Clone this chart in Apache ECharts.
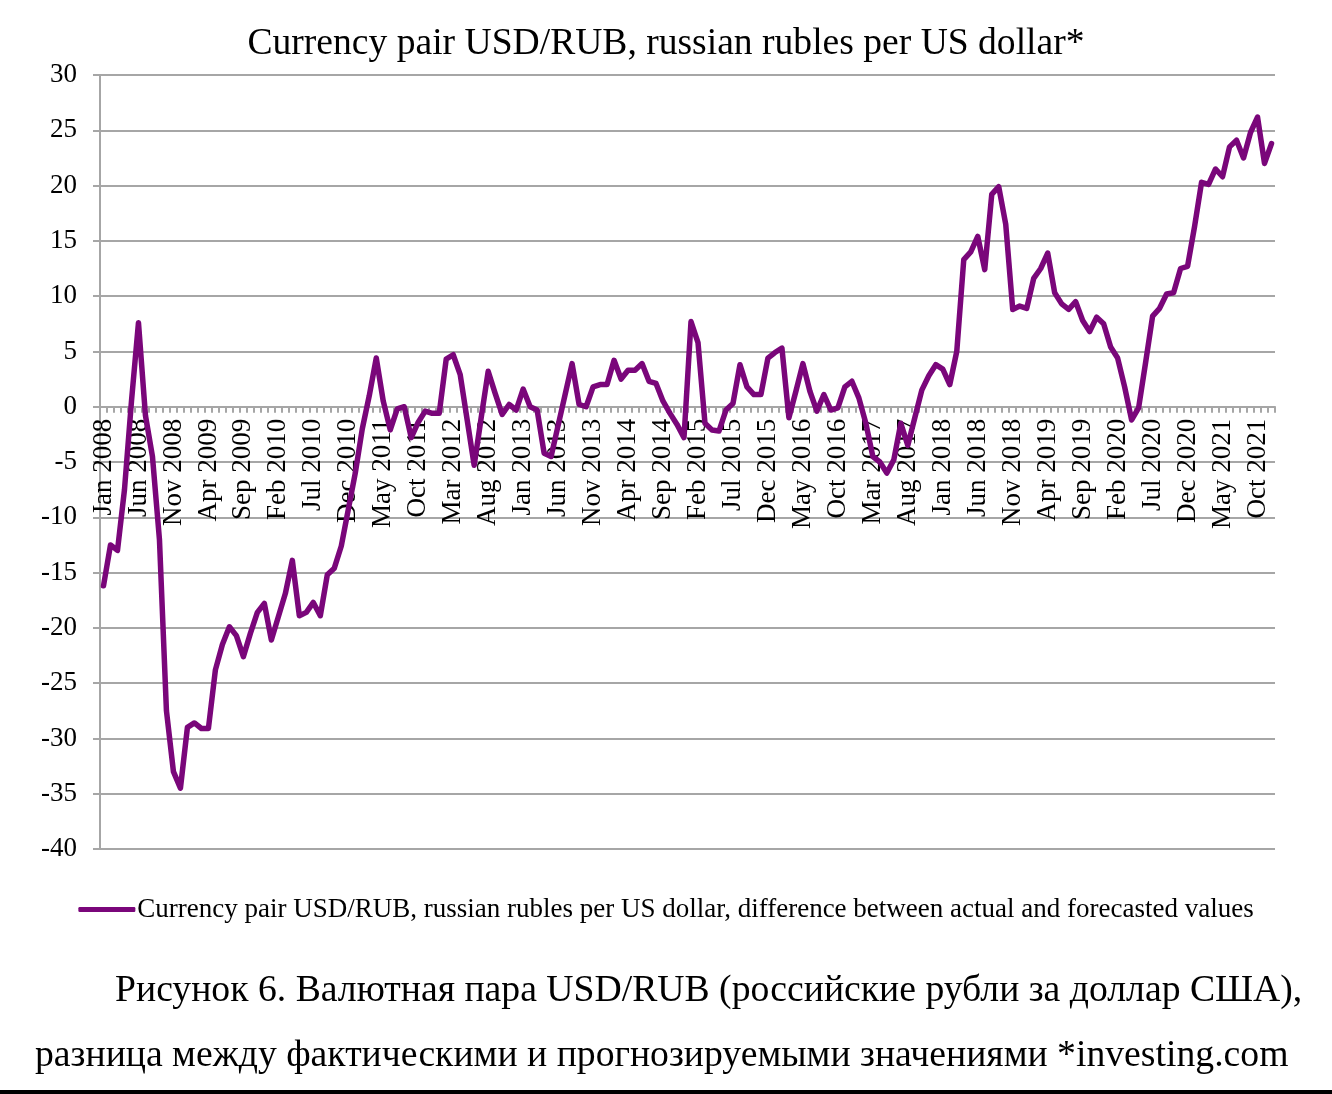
<!DOCTYPE html>
<html lang="en">
<head>
    <meta charset="utf-8">
    <title>USD/RUB</title>
    <script src="https://cdn.jsdelivr.net/npm/echarts@6/dist/echarts.min.js"></script>
    <style>
        html, body { margin: 0; padding: 0; background: #fff; }
    </style>
</head>
<body>
    <div id="main" style="width:1332px;height:1094px;"></div>

    <script>
    // month names and years for the category axis
    var monthNames = ['Jan', 'Feb', 'Mar', 'Apr', 'May', 'Jun', 'Jul', 'Aug', 'Sep', 'Oct', 'Nov', 'Dec'];
    var years = [2008, 2009, 2010, 2011, 2012, 2013, 2014, 2015, 2016, 2017, 2018, 2019, 2020, 2021];

    var yTicks = { min: -40, max: 30, step: 5 };

    // difference between actual and forecasted values, one row per year (Jan..Dec)
    var diffValues = [
        -16.2, -12.5, -13.0, -7.5, 0.5, 7.6, -0.8, -4.5, -12.0, -27.5, -33.0, -34.5,
        -29.0, -28.6, -29.1, -29.1, -23.8, -21.5, -19.9, -20.7, -22.6, -20.5, -18.6, -17.8,
        -21.1, -19.0, -16.9, -13.9, -18.9, -18.6, -17.7, -18.9, -15.2, -14.6, -12.6, -9.3,
        -6.0, -2.0, 1.0, 4.4, 0.5, -2.1, -0.2, 0.0, -2.8, -1.4, -0.4, -0.6,
        -0.6, 4.3, 4.7, 2.9, -1.2, -5.3, -1.0, 3.2, 1.2, -0.7, 0.2, -0.3,
        1.6, 0.0, -0.3, -4.2, -4.5, -1.7, 1.1, 3.9, 0.2, 0.0, 1.8, 2.0,
        2.0, 4.2, 2.5, 3.3, 3.3, 3.9, 2.3, 2.1, 0.5, -0.6, -1.6, -2.8,
        7.7, 5.8, -1.5, -2.1, -2.2, -0.3, 0.3, 3.8, 1.8, 1.1, 1.1, 4.4,
        4.9, 5.3, -1.0, 1.4, 3.9, 1.4, -0.4, 1.1, -0.3, -0.1, 1.8, 2.3,
        0.8, -1.5, -4.5, -5.0, -6.0, -4.8, -1.5, -3.5, -1.0, 1.5, 2.8, 3.8,
        3.4, 2.0, 5.0, 13.3, 14.0, 15.4, 12.4, 19.2, 19.9, 16.5, 8.8, 9.1,
        8.9, 11.6, 12.5, 13.9, 10.3, 9.3, 8.8, 9.5, 7.8, 6.8, 8.1, 7.5,
        5.4, 4.4, 1.8, -1.2, -0.1, 4.0, 8.2, 8.9, 10.2, 10.3, 12.5, 12.7,
        16.3, 20.3, 20.1, 21.5, 20.8, 23.5, 24.1, 22.5, 24.8, 26.2, 22.0, 23.8
    ];

    var categories = [];
    years.forEach(function (y) {
        monthNames.forEach(function (m) { categories.push(m + ' ' + y); });
    });

    var seriesName = 'Currency pair USD/RUB, russian rubles per US dollar, difference between actual and forecasted values';
    var serif = 'Liberation Serif, Times New Roman, serif';
    var gridGray = '#a6a6a6';
    var lineColor = '#7a067a';

    // plot area, and the pixel shift that puts the category axis on the zero line
    var gridTop = 75, gridBottom = 245, gridHeight = 1094 - gridTop - gridBottom;
    var zeroShift = -gridHeight * (0 - yTicks.min) / (yTicks.max - yTicks.min);

    var myChart = echarts.init(document.getElementById('main'));
    myChart.setOption({
        animation: false,
        backgroundColor: '#fff',
        title: [
            {
                text: 'Currency pair USD/RUB, russian rubles per US dollar*',
                left: 'center', top: 20,
                textStyle: { fontFamily: serif, fontSize: 37.6, fontWeight: 'normal', color: '#000' }
            },
            {
                text: 'Рисунок 6. Валютная пара USD/RUB (российские рубли за доллар США),',
                left: 110, top: 967,
                textStyle: { fontFamily: serif, fontSize: 37.7, fontWeight: 'normal', color: '#000' }
            },
            {
                text: 'разница между фактическими и прогнозируемыми значениями *investing.com',
                left: 30, top: 1032,
                textStyle: { fontFamily: serif, fontSize: 37.7, fontWeight: 'normal', color: '#000' }
            }
        ],
        graphic: [
            { type: 'rect', shape: { x: 0, y: 1090, width: 1332, height: 4 }, style: { fill: '#000' } }
        ],
        legend: {
            top: 891, left: 'center',
            icon: 'roundRect',
            itemWidth: 57, itemHeight: 5, itemGap: 0,
            textStyle: { fontFamily: serif, fontSize: 27, color: '#000', padding: [0, 0, 0, -3] },
            data: [seriesName]
        },
        grid: { left: 100, right: 57, top: gridTop, bottom: gridBottom, containLabel: false },
        xAxis: {
            type: 'category',
            data: categories,
            boundaryGap: true,
            position: 'bottom',
            offset: zeroShift,
            axisLine: { onZero: false, lineStyle: { color: gridGray, width: 2 } },
            axisTick: { show: true, interval: 0, length: 6, lineStyle: { color: gridGray, width: 2 } },
            axisLabel: {
                interval: 4, rotate: 90, margin: 12,
                fontFamily: serif, fontSize: 27, color: '#000'
            },
            splitLine: { show: false }
        },
        yAxis: {
            type: 'value',
            min: yTicks.min, max: yTicks.max, interval: yTicks.step,
            axisLine: { show: true, lineStyle: { color: gridGray, width: 2 } },
            axisTick: { show: true, length: 7, lineStyle: { color: gridGray, width: 2 } },
            axisLabel: { margin: 23, fontFamily: serif, fontSize: 27, color: '#000' },
            splitLine: { show: true, lineStyle: { color: gridGray, width: 2 } }
        },
        series: [{
            name: seriesName,
            type: 'line',
            data: diffValues,
            smooth: false,
            symbol: 'none',
            itemStyle: { color: lineColor },
            lineStyle: { color: lineColor, width: 5.5, join: 'round', cap: 'round' }
        }]
    });
    </script>
</body>
</html>
